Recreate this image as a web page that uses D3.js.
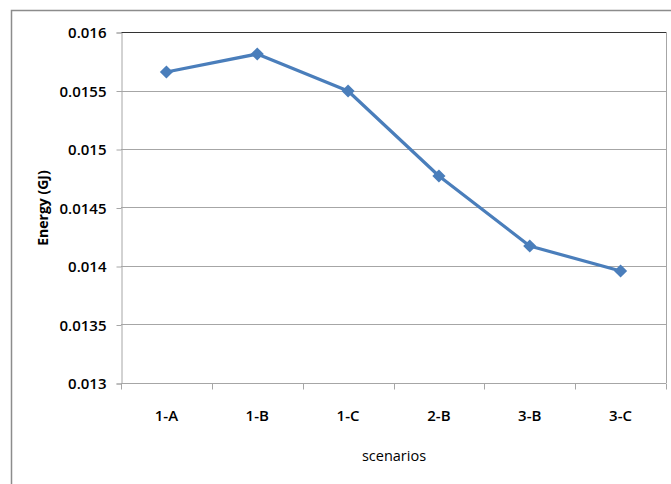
<!DOCTYPE html>
<html>
<head>
<meta charset="utf-8">
<script src="https://cdn.jsdelivr.net/npm/d3@7"></script>
<style>
  html, body { margin: 0; padding: 0; background: #fff; }
  svg { display: block; }
  text { font-family: "Open Sans", "Noto Sans", sans-serif; fill: #000; }
</style>
</head>
<body>
<svg id="chart" width="671" height="484"></svg>
<script>
// Energy use per scenario
const scenarios = ["1-A", "1-B", "1-C", "2-B", "3-B", "3-C"];
const energy = [0.015658, 0.015812, 0.015496, 0.014769, 0.014171, 0.013957];
const yTicks = [0.013, 0.0135, 0.014, 0.0145, 0.015, 0.0155, 0.016];
const yTickLabels = ["0.013", "0.0135", "0.014", "0.0145", "0.015", "0.0155", "0.016"];

const svg = d3.select("#chart");
const W = 671, H = 484;
const plot = { left: 121, right: 666, top: 32, bottom: 383 };

// outer chart frame (top and left edges visible)
svg.append("path")
  .attr("d", `M11.5,${H} V10.5 H${W}`)
  .attr("fill", "none")
  .attr("stroke", "#8c8c8c")
  .attr("stroke-width", 1.5);

const x = d3.scaleBand().domain(scenarios).range([plot.left, plot.right]);
const y = d3.scaleLinear().domain([0.013, 0.016]).range([plot.bottom, plot.top]);

// horizontal gridlines
svg.append("g").selectAll("line").data(yTicks.slice(1)).join("line")
  .attr("x1", plot.left).attr("x2", plot.right)
  .attr("y1", d => Math.round(y(d)) + 0.5).attr("y2", d => Math.round(y(d)) + 0.5)
  .attr("stroke", d => d === 0.016 ? "#333" : "#a6a6a6")
  .attr("stroke-width", 1);

// right edge of plot area
svg.append("line")
  .attr("x1", plot.right + 0.5).attr("x2", plot.right + 0.5)
  .attr("y1", plot.top).attr("y2", plot.bottom)
  .attr("stroke", "#a6a6a6");

// y axis
const yAxis = d3.axisLeft(y)
  .tickValues(yTicks)
  .tickFormat((d, i) => yTickLabels[i])
  .tickSize(5)
  .tickPadding(10);
const gy = svg.append("g").attr("transform", `translate(${plot.left + 0.5},0.5)`).call(yAxis);
gy.select(".domain").attr("stroke", "#a6a6a6");
gy.selectAll(".tick line").attr("stroke", "#a6a6a6");
gy.selectAll(".tick text")
  .style("font-size", "15px")
  .style("font-weight", "600")
  .attr("dy", "0.35em");

// x axis with ticks between categories
const gx = svg.append("g").attr("transform", `translate(0,${plot.bottom + 0.5})`);
gx.append("line")
  .attr("x1", plot.left).attr("x2", plot.right)
  .attr("stroke", "#a6a6a6");
const boundaries = scenarios.map(s => x(s)).concat([plot.right]);
gx.selectAll("line.tk").data(boundaries).join("line")
  .attr("class", "tk")
  .attr("x1", d => Math.round(d) + 0.5).attr("x2", d => Math.round(d) + 0.5)
  .attr("y1", 0).attr("y2", 6)
  .attr("stroke", "#a6a6a6");
gx.selectAll("text").data(scenarios).join("text")
  .attr("x", d => x(d) + x.bandwidth() / 2)
  .attr("y", 37)
  .attr("text-anchor", "middle")
  .style("font-size", "15px")
  .style("font-weight", "600")
  .text(d => d);

// axis titles
svg.append("text")
  .attr("x", 394).attr("y", 461)
  .attr("text-anchor", "middle")
  .style("font-size", "14.5px")
  .text("scenarios");
svg.append("text")
  .attr("transform", "translate(48,208) rotate(-90)")
  .attr("text-anchor", "middle")
  .style("font-size", "14px")
  .style("font-weight", "bold")
  .text("Energy (GJ)");

// data line
const pts = scenarios.map((s, i) => [x(s) + x.bandwidth() / 2, y(energy[i])]);
svg.append("path")
  .attr("d", d3.line()(pts))
  .attr("fill", "none")
  .attr("stroke", "#4a7ebb")
  .attr("stroke-width", 3.2)
  .attr("stroke-linejoin", "round");

// diamond markers
svg.append("g").selectAll("path").data(pts).join("path")
  .attr("transform", d => `translate(${d[0]},${d[1]})`)
  .attr("d", d3.symbol().type(d3.symbolDiamond2).size(110))
  .attr("fill", "#4a7ebb");
</script>
</body>
</html>
